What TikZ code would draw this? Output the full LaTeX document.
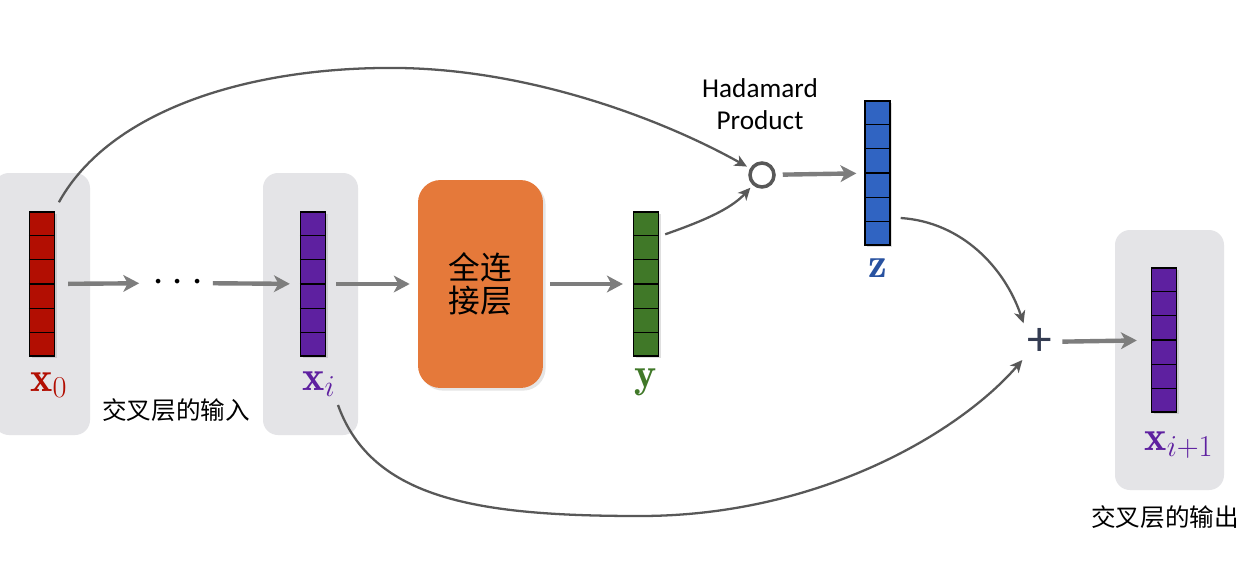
\documentclass[tikz,border=0pt]{standalone}
\usepackage{fontspec}
\newfontfamily\cjk{Noto Sans CJK SC}
\newfontfamily\carl{Carlito}
\usetikzlibrary{arrows.meta,calc,shadows}

\definecolor{panel}{RGB}{228,228,231}
\definecolor{vred}{RGB}{178,14,2}
\definecolor{vpurple}{RGB}{94,32,160}
\definecolor{vgreen}{RGB}{64,120,40}
\definecolor{vblue}{RGB}{48,100,194}
\definecolor{lblue}{RGB}{40,82,160}
\definecolor{fcorange}{RGB}{229,121,58}
\definecolor{arrowgray}{RGB}{125,125,125}
\definecolor{curvegray}{RGB}{88,88,88}
\definecolor{plusc}{RGB}{52,60,82}

\tikzset{
  vecbox/.style={draw=black, line width=0.8pt, inner sep=0pt,
    minimum width=0.5cm, minimum height=2.88cm,
    drop shadow={shadow xshift=1.2pt, shadow yshift=-1.2pt, opacity=0.25}},
  cellline/.style={black, line width=0.7pt},
  thickarrow/.style={draw=arrowgray, line width=2.5pt,
    -{Stealth[length=9pt, width=9.5pt, inset=2.5pt]}},
  curvearrow/.style={draw=curvegray, line width=1.3pt,
    -{Stealth[length=7pt, width=6.5pt, inset=2pt]}},
  veclabel/.style={font=\fontsize{24}{28}\selectfont, inner sep=0pt},
  cjklabel/.style={font=\cjk\fontsize{14}{16}\selectfont, inner sep=0pt},
}

% a column vector of six cells
\newcommand\cellvec[4]{%
  \node[vecbox, fill=#4] (#1) at (#2,#3) {};
  \foreach \k in {1,...,5}
    \draw[cellline] ($(#1.north west)!\k/6!(#1.south west)$) --
                    ($(#1.north east)!\k/6!(#1.south east)$);
}

\begin{document}
\begin{tikzpicture}[x=0.02cm, y=-0.02cm]
  \useasboundingbox (0,0) rectangle (1256,568);
  \fill[white] (0,0) rectangle (1256,568);

  % grey panels behind the input and output vectors
  \fill[panel, rounded corners=0.3cm] (-6,173) rectangle (90,435);
  \fill[panel, rounded corners=0.3cm] (263,173) rectangle (358,435);
  \fill[panel, rounded corners=0.3cm] (1115,230) rectangle (1224,490);

  % vectors
  \cellvec{x0v}{42}{284}{vred}
  \cellvec{xiv}{313}{284}{vpurple}
  \cellvec{yv}{646}{284}{vgreen}
  \cellvec{zv}{877.5}{173}{vblue}
  \cellvec{xnv}{1164}{340}{vpurple}

  % vector labels
  \node[veclabel, text=vred] (x0l) at (49,385) {$\mathbf{x}_0$};
  \node[veclabel, text=vpurple] (xil) at (319,384) {$\mathbf{x}_i$};
  \node[veclabel, text=vgreen] (yl) at (646,382) {$\mathbf{y}$};
  \node[veclabel, text=lblue] (zl) at (878,268) {$\mathbf{z}$};
  \node[veclabel, text=vpurple] (xnl) at (1179,445) {$\mathbf{x}_{i+1}$};

  % ellipsis between x0 and xi
  \node[inner sep=0pt, minimum width=1cm, font=\fontsize{26}{26}\selectfont]
    (dots) at (178,283) {$\cdots$};

  % fully connected layer
  \node[fill=fcorange, rounded corners=0.45cm, inner sep=0pt,
        minimum width=2.5cm, minimum height=4.16cm, align=center,
        font=\cjk\fontsize{18}{19}\selectfont,
        drop shadow={shadow xshift=1.5pt, shadow yshift=-1.5pt, opacity=0.2}]
    (fc) at (480.5,284) {全连\\接层};

  % Hadamard product
  \node[circle, draw=curvegray, line width=2pt, minimum size=0.48cm,
        inner sep=0pt] (hp) at (762,175) {};
  \node[align=center, font=\carl\fontsize{15.5}{18}\selectfont, inner sep=0pt]
    (hpl) at (760,104) {Hadamard\\Product};

  % sum
  \node[inner sep=0pt, minimum size=0.6cm, text=plusc,
        font=\carl\fontsize{28}{28}\selectfont] (plus) at (1040,342) {+};

  % captions
  \node[cjklabel] (inlbl) at (176,410) {交叉层的输入};
  \node[cjklabel] (outlbl) at (1165,517) {交叉层的输出};

  % straight connections
  \draw[thickarrow, shorten <=0.26cm, shorten >=0.26cm] (x0v) -- (dots);
  \draw[thickarrow, shorten <=0.18cm, shorten >=0.2cm] (dots) -- (xiv);
  \draw[thickarrow, shorten <=0.2cm, shorten >=0.16cm] (xiv) -- (fc);
  \draw[thickarrow, shorten <=0.14cm, shorten >=0.2cm] (fc) -- (yv);
  \draw[thickarrow, shorten <=0.14cm, shorten >=0.16cm] (hp) -- (zv);
  \draw[thickarrow, shorten <=0.14cm, shorten >=0.28cm] (plus) -- (xnv);

  % curved connections
  \draw[curvearrow, shorten <=2pt, shorten >=2pt]
    ($(x0v.north east)+(2,-6)$) .. controls (110,110) and (250,66) .. (400,68)
    .. controls (530,70) and (660,118) .. (hp);
  \draw[curvearrow, shorten >=2pt]
    ($(yv.north east)+(6,23)$) .. controls (700,222) and (730,210) .. (hp);
  \draw[curvearrow, shorten >=2pt]
    ($(zv.east)+(10,45)$) .. controls (962,222) and (1005,268) .. (plus.north west);
  \draw[curvearrow, shorten >=2pt]
    ($(xil.south east)+(2,8)$) .. controls (372,500) and (480,516) .. (640,516)
    .. controls (820,516) and (960,432) .. (plus.south west);
\end{tikzpicture}
\end{document}
